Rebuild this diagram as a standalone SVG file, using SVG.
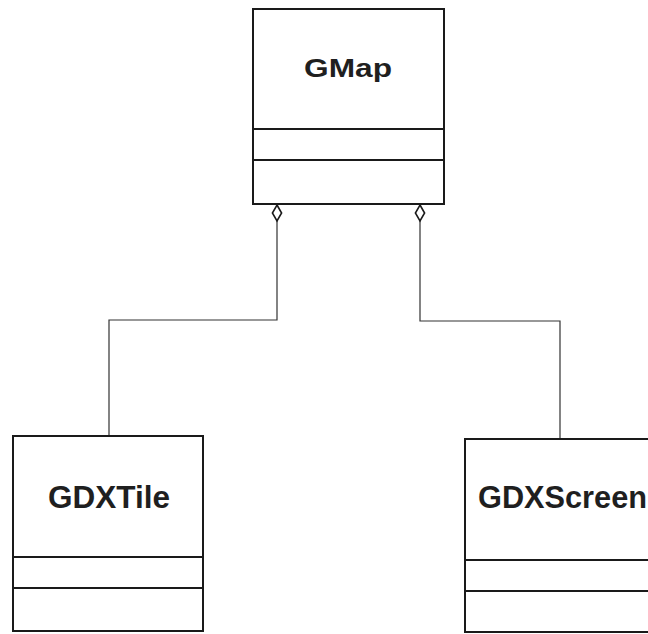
<svg xmlns="http://www.w3.org/2000/svg" width="648" height="634" viewBox="0 0 648 634">
  <style>
    .box { fill: #ffffff; stroke: #1a1a1a; stroke-width: 2; }
    .div { stroke: #1a1a1a; stroke-width: 2; fill: none; }
    .name { font-family: "Liberation Sans", Arial, sans-serif; font-weight: bold; fill: #1f1f1f; }
    .link { fill: none; stroke: #333333; stroke-width: 1.2; }
    .agg { fill: #ffffff; stroke: #1a1a1a; stroke-width: 1.6; }
  </style>
  <rect width="648" height="634" fill="#ffffff"/>

  <g id="connectors">
    <polyline class="link" points="277,221 277,320 109,320 109,436"/>
    <polyline class="link" points="420,221 420,321 560,321 560,439"/>
    <path class="agg" d="M277,205 L281.6,213 L277,221 L272.4,213 Z"/>
    <path class="agg" d="M420,205 L424.6,213 L420,221 L415.4,213 Z"/>
  </g>

  <g id="GMap">
    <rect class="box" x="253" y="9" width="191" height="195"/>
    <line class="div" x1="253" y1="129" x2="444" y2="129"/>
    <line class="div" x1="253" y1="160" x2="444" y2="160"/>
    <text class="name" x="304" y="77" font-size="26" textLength="88" lengthAdjust="spacingAndGlyphs">GMap</text>
  </g>

  <g id="GDXTile">
    <rect class="box" x="13" y="436" width="190" height="195"/>
    <line class="div" x1="13" y1="557" x2="203" y2="557"/>
    <line class="div" x1="13" y1="588" x2="203" y2="588"/>
    <text class="name" x="48" y="507.5" font-size="31" textLength="122" lengthAdjust="spacingAndGlyphs">GDXTile</text>
  </g>

  <g id="GDXScreen">
    <rect class="box" x="465" y="439" width="200" height="193"/>
    <line class="div" x1="465" y1="560" x2="648" y2="560"/>
    <line class="div" x1="465" y1="591" x2="648" y2="591"/>
    <text class="name" x="478" y="508" font-size="31" textLength="169" lengthAdjust="spacingAndGlyphs">GDXScreen</text>
  </g>
</svg>
